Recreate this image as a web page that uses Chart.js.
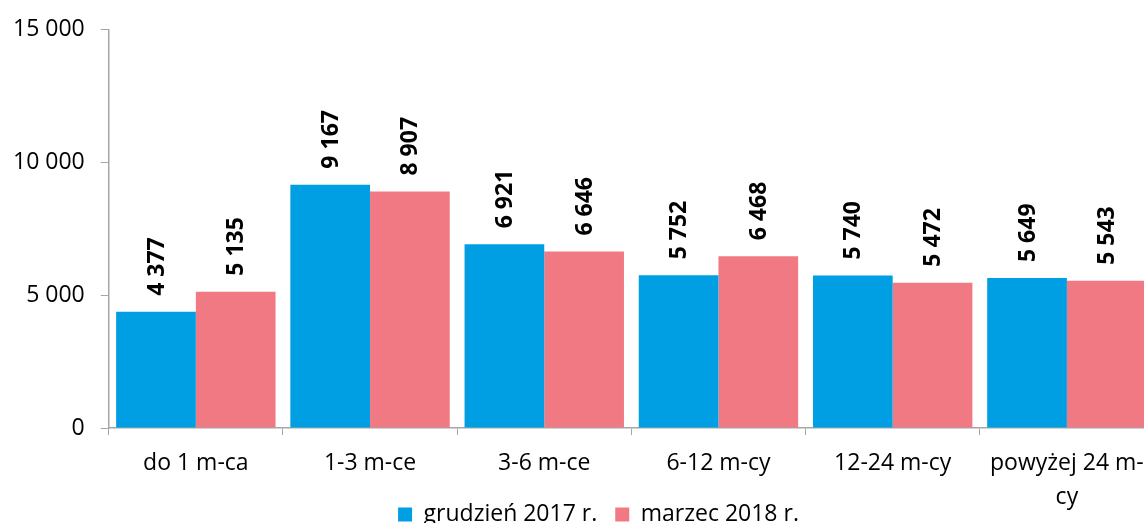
<!DOCTYPE html>
<html>
<head>
<meta charset="utf-8">
<script src="https://cdn.jsdelivr.net/npm/chart.js@4"></script>
<style>
  html, body { margin: 0; padding: 0; background: #fff; overflow: hidden; }
  #wrap { width: 1160px; height: 523px; }
</style>
</head>
<body>
<div id="wrap"><canvas id="barChart"></canvas></div>
<script>
// Kategorien und Werte aus dem Bild
let categories = ['do 1 m-ca', '1-3 m-ce', '3-6 m-ce', '6-12 m-cy', '12-24 m-cy', ['powyżej 24 m-', 'cy']];
let grudzien2017 = [4377, 9167, 6921, 5752, 5740, 5649];
let marzec2018 = [5135, 8907, 6646, 6468, 5472, 5543];
let seriesNames = ['grudzień 2017 r.', 'marzec 2018 r.'];
let yTicks = [0, 5000, 10000, 15000];

let fontName = 'Open Sans';

// Tausender mit Leerzeichen trennen
function fmt(v) {
  return String(v).replace(/\B(?=(\d{3})+(?!\d))/g, ' ');
}

// Werte senkrecht über die Balken schreiben
let valueLabels = {
  id: 'valueLabels',
  afterDatasetsDraw(chart) {
    let ctx = chart.ctx;
    ctx.save();
    ctx.font = 'bold 23px ' + fontName;
    ctx.fillStyle = '#000';
    ctx.textAlign = 'left';
    ctx.textBaseline = 'middle';
    chart.data.datasets.forEach((ds, i) => {
      chart.getDatasetMeta(i).data.forEach((bar, j) => {
        ctx.save();
        ctx.translate(bar.x, bar.y - 16);
        ctx.rotate(-Math.PI / 2);
        ctx.fillText(fmt(ds.data[j]), 0, 1);
        ctx.restore();
      });
    });
    ctx.restore();
  }
};

// Legende an ihre Stelle unten setzen (etwas nach rechts, unter die Achsenbeschriftung)
let legendShift = {
  id: 'legendShift',
  afterLayout(chart) {
    let lg = chart.legend;
    let h = lg.bottom - lg.top;
    lg.top = 485;
    lg.bottom = 485 + h;
    lg.left += 23;
    lg.right += 23;
  }
};

let config = {
  type: 'bar',
  data: {
    labels: categories,
    datasets: [
      { label: seriesNames[0], data: grudzien2017, backgroundColor: '#009FE3' },
      { label: seriesNames[1], data: marzec2018, backgroundColor: '#F07983' }
    ]
  },
  options: {
    responsive: true,
    maintainAspectRatio: false,
    animation: false,
    layout: { padding: { left: -3, right: 6, top: -1, bottom: -54 } },
    datasets: { bar: { categoryPercentage: 0.915, barPercentage: 1 } },
    scales: {
      x: {
        grid: { offset: true, drawOnChartArea: false, tickLength: 7, color: '#a6a6a6' },
        border: { color: '#a6a6a6', width: 1.5 },
        ticks: { color: '#000', font: { family: fontName, size: 23, lineHeight: 1.5 }, padding: 11, maxRotation: 0, autoSkip: false }
      },
      y: {
        min: 0,
        max: 15000,
        afterBuildTicks: axis => { axis.ticks = yTicks.map(v => ({ value: v })); },
        grid: { drawOnChartArea: false, tickLength: 8, color: '#a6a6a6' },
        border: { color: '#a6a6a6', width: 1.5 },
        ticks: { color: '#000', font: { family: fontName, size: 23 }, padding: 16, callback: v => fmt(v) }
      }
    },
    plugins: {
      legend: {
        position: 'bottom',
        labels: { color: '#000', font: { family: fontName, size: 23 }, boxWidth: 14, boxHeight: 14, padding: 18 }
      },
      tooltip: { enabled: false }
    }
  },
  plugins: [valueLabels, legendShift]
};

let ctx = document.getElementById('barChart').getContext('2d');
let barChart = new Chart(ctx, config);
</script>
</body>
</html>
